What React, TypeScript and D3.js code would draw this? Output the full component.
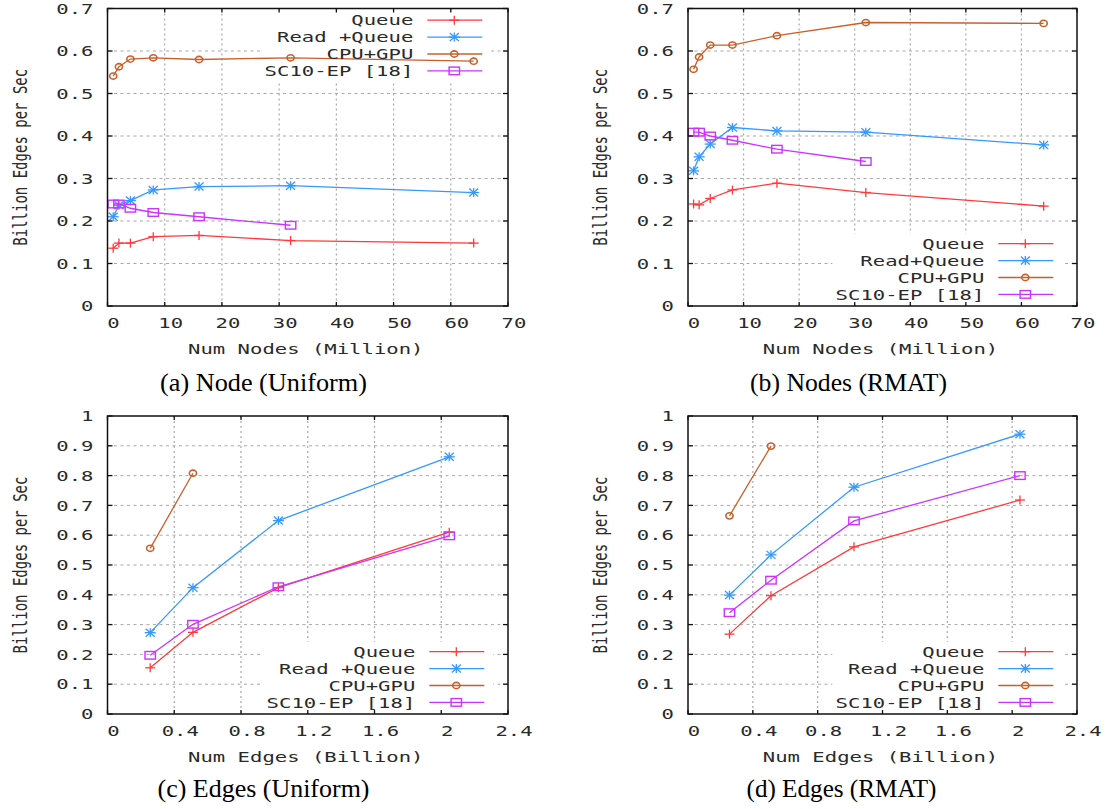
import React from 'react';
import * as d3 from 'd3';

// ---------- data ----------
const nodeCounts = [1, 2, 4, 8, 16, 32, 64];
const sc10NodeCounts = [1, 2, 4, 8, 16, 32];
const edgeCounts = [0.256, 0.512, 1.024, 2.048];
const cpuGpuEdgeCounts = [0.256, 0.512];

const nodeUniformQueue = [0.136, 0.148, 0.148, 0.163, 0.166, 0.154, 0.148];
const nodeUniformReadQueue = [0.21, 0.237, 0.248, 0.273, 0.281, 0.283, 0.267];
const nodeUniformCpuGpu = [0.541, 0.563, 0.581, 0.584, 0.58, 0.584, 0.576];
const nodeUniformSc10 = [0.24, 0.24, 0.23, 0.22, 0.21, 0.19];

const nodeRmatQueue = [0.24, 0.238, 0.253, 0.273, 0.289, 0.267, 0.235];
const nodeRmatReadQueue = [0.318, 0.351, 0.381, 0.42, 0.412, 0.409, 0.379];
const nodeRmatCpuGpu = [0.557, 0.586, 0.614, 0.614, 0.636, 0.667, 0.665];
const nodeRmatSc10 = [0.409, 0.409, 0.4, 0.39, 0.369, 0.34];

const edgeUniformQueue = [0.155, 0.274, 0.424, 0.61];
const edgeUniformReadQueue = [0.273, 0.424, 0.649, 0.863];
const edgeUniformCpuGpu = [0.556, 0.808];
const edgeUniformSc10 = [0.197, 0.301, 0.427, 0.598];

const edgeRmatQueue = [0.268, 0.397, 0.561, 0.718];
const edgeRmatReadQueue = [0.399, 0.534, 0.761, 0.939];
const edgeRmatCpuGpu = [0.665, 0.899];
const edgeRmatSc10 = [0.34, 0.449, 0.648, 0.8];

const seriesNames = ['Queue', 'Read +Queue', 'CPU+GPU', 'SC10-EP [18]'];
const seriesNamesRmatNodes = ['Queue', 'Read+Queue', 'CPU+GPU', 'SC10-EP [18]'];
const seriesColors = ['#ff3a3a', '#3399ff', '#c8602a', '#cc33ff'];
const seriesMarkers = ['plus', 'star', 'circle', 'square'];

const nodeXTicks = [0, 10, 20, 30, 40, 50, 60, 70];
const edgeXTicks = [0, 0.4, 0.8, 1.2, 1.6, 2, 2.4];
const nodeYTicks = [0, 0.1, 0.2, 0.3, 0.4, 0.5, 0.6, 0.7];
const edgeYTicks = [0, 0.1, 0.2, 0.3, 0.4, 0.5, 0.6, 0.7, 0.8, 0.9, 1];

const captions = ['(a) Node (Uniform)', '(b) Nodes (RMAT)', '(c) Edges (Uniform)', '(d) Edges (RMAT)'];
const xLabels = ['Num Nodes (Million)', 'Num Edges (Billion)'];
const yLabel = 'Billion Edges per Sec';

// ---------- layout ----------
const SX = 1.44;
const FONT = "'DejaVu Sans Mono', monospace";

type Series = { xs: number[]; ys: number[] };
type PanelCfg = {
  left: number; right: number; top: number; bottom: number;
  xTicks: number[]; yTicks: number[];
  series: Series[]; names: string[];
  legendPos: 'top' | 'bottom';
  xLabel: string; caption: string; captionLen: number; captionX: number; captionY: number;
};

const fmt = (t: number) => String(+t.toFixed(1));

function GText(props: { x: number; y: number; anchor?: string; children: any }) {
  const { x, y, anchor = 'middle', children } = props;
  return (
    <text
      transform={`translate(${x},${y}) scale(${SX},1)`}
      textAnchor={anchor}
      dy="0.36em"
      fontFamily={FONT}
      fontSize={14.3}
      fill="#2a2a2a"
      style={{ whiteSpace: 'pre' }}
    >
      {children}
    </text>
  );
}

function Marker({ cx, cy, type, color }: { cx: number; cy: number; type: string; color: string }) {
  const sw = 1.3;
  if (type === 'plus') {
    return (
      <g stroke={color} strokeWidth={sw}>
        <line x1={cx - 5} y1={cy} x2={cx + 5} y2={cy} />
        <line x1={cx} y1={cy - 4.5} x2={cx} y2={cy + 4.5} />
      </g>
    );
  }
  if (type === 'star') {
    return (
      <g stroke={color} strokeWidth={sw}>
        <line x1={cx - 5.5} y1={cy} x2={cx + 5.5} y2={cy} />
        <line x1={cx} y1={cy - 4.5} x2={cx} y2={cy + 4.5} />
        <line x1={cx - 4.5} y1={cy - 4} x2={cx + 4.5} y2={cy + 4} />
        <line x1={cx - 4.5} y1={cy + 4} x2={cx + 4.5} y2={cy - 4} />
      </g>
    );
  }
  if (type === 'circle') {
    return <ellipse cx={cx} cy={cy} rx={3.6} ry={3.1} fill="none" stroke={color} strokeWidth={1.6} />;
  }
  return <rect x={cx - 5.2} y={cy - 3.8} width={10.4} height={7.6} fill="none" stroke={color} strokeWidth={1.4} />;
}

function Panel({ cfg }: { cfg: PanelCfg }) {
  const { left, right, top, bottom } = cfg;
  const xDom = [cfg.xTicks[0], cfg.xTicks[cfg.xTicks.length - 1]];
  const yDom = [cfg.yTicks[0], cfg.yTicks[cfg.yTicks.length - 1]];
  const x = d3.scaleLinear().domain(xDom).range([left, right]);
  const y = d3.scaleLinear().domain(yDom).range([bottom, top]);
  const line = d3.line<[number, number]>().x((d) => x(d[0])).y((d) => y(d[1]));

  const step = 16.9;
  const firstY = cfg.legendPos === 'top' ? top + 11.7 : bottom - 62.3;
  const textRight = right - (cfg.legendPos === 'top' ? 94.7 : 92.7);
  const boxLeft = textRight - 152;
  const boxRight = Math.min(textRight + 78, right - 2);
  const boxTop = firstY - 10;
  const boxBottom = Math.min(firstY + 3 * step + 10, bottom - 1);

  return (
    <g>
      {/* grid */}
      {cfg.yTicks.slice(1, -1).map((t) => (
        <line key={'gy' + t} x1={left} x2={right} y1={y(t)} y2={y(t)} stroke="#a8a8a8" strokeWidth={1} strokeDasharray="3,3.5" />
      ))}
      {cfg.xTicks.slice(1, -1).map((t) => (
        <line key={'gx' + t} x1={x(t)} x2={x(t)} y1={top} y2={bottom} stroke="#a8a8a8" strokeWidth={1.2} strokeDasharray="2,3" />
      ))}
      {/* legend box (opaque) */}
      <rect x={boxLeft} y={boxTop} width={boxRight - boxLeft} height={boxBottom - boxTop} fill="#fff" />
      {/* data */}
      {cfg.series.map((s, i) => {
        const pts = s.xs.map((v, j) => [v, s.ys[j]] as [number, number]);
        return (
          <g key={'s' + i}>
            <path d={line(pts) || ''} fill="none" stroke={seriesColors[i]} strokeWidth={1.3} />
            {pts.map((p, j) => (
              <Marker key={j} cx={x(p[0])} cy={y(p[1])} type={seriesMarkers[i]} color={seriesColors[i]} />
            ))}
          </g>
        );
      })}
      {/* legend */}
      {cfg.names.map((n, i) => {
        const ly = firstY + i * step;
        return (
          <g key={'l' + i}>
            <GText x={textRight} y={ly} anchor="end">{n}</GText>
            <line x1={textRight + 14} x2={textRight + 69} y1={ly} y2={ly} stroke={seriesColors[i]} strokeWidth={1.3} />
            <Marker cx={textRight + 41} cy={ly} type={seriesMarkers[i]} color={seriesColors[i]} />
          </g>
        );
      })}
      {/* border */}
      <rect x={left} y={top} width={right - left} height={bottom - top} fill="none" stroke="#111" strokeWidth={1.5} />
      {/* ticks */}
      {cfg.yTicks.map((t) => (
        <g key={'ty' + t} stroke="#111" strokeWidth={1.3}>
          <line x1={left} x2={left + 5} y1={y(t)} y2={y(t)} />
          <line x1={right} x2={right - 5} y1={y(t)} y2={y(t)} />
        </g>
      ))}
      {cfg.xTicks.map((t) => (
        <g key={'tx' + t} stroke="#111" strokeWidth={1.3}>
          <line x1={x(t)} x2={x(t)} y1={bottom} y2={bottom - 4} />
          <line x1={x(t)} x2={x(t)} y1={top} y2={top + 4} />
        </g>
      ))}
      {/* tick labels */}
      {cfg.yTicks.map((t) => (
        <GText key={'ly' + t} x={left - 14} y={y(t)} anchor="end">{fmt(t)}</GText>
      ))}
      {cfg.xTicks.map((t) => (
        <GText key={'lx' + t} x={x(t) + 6} y={bottom + 17} anchor="middle">{fmt(t)}</GText>
      ))}
      {/* axis labels */}
      <GText x={(left + right) / 2 - 2} y={bottom + 42.5} anchor="middle">{cfg.xLabel}</GText>
      <text
        transform={`translate(${left - 88},${(top + bottom) / 2}) scale(${SX},1) rotate(-90)`}
        textAnchor="middle"
        dy="0.36em"
        fontFamily={FONT}
        fontSize={14}
        fill="#2a2a2a"
      >
        {yLabel}
      </text>
      {/* caption */}
      <text
        x={cfg.captionX}
        y={cfg.captionY}
        textAnchor="middle"
        fontFamily="'Liberation Serif', 'Times New Roman', serif"
        fontSize={24.5}
        textLength={cfg.captionLen}
        lengthAdjust="spacingAndGlyphs"
        fill="#000"
      >
        {cfg.caption}
      </text>
    </g>
  );
}

const mk = (xs: number[], ys: number[]): Series => ({ xs, ys });

const panels: PanelCfg[] = [
  {
    left: 107.5, right: 508, top: 8.5, bottom: 306,
    xTicks: nodeXTicks, yTicks: nodeYTicks,
    series: [mk(nodeCounts, nodeUniformQueue), mk(nodeCounts, nodeUniformReadQueue), mk(nodeCounts, nodeUniformCpuGpu), mk(sc10NodeCounts, nodeUniformSc10)],
    names: seriesNames, legendPos: 'top',
    xLabel: xLabels[0], caption: captions[0], captionLen: 207, captionX: 263.5, captionY: 391,
  },
  {
    left: 688, right: 1077, top: 8.5, bottom: 306,
    xTicks: nodeXTicks, yTicks: nodeYTicks,
    series: [mk(nodeCounts, nodeRmatQueue), mk(nodeCounts, nodeRmatReadQueue), mk(nodeCounts, nodeRmatCpuGpu), mk(sc10NodeCounts, nodeRmatSc10)],
    names: seriesNamesRmatNodes, legendPos: 'bottom',
    xLabel: xLabels[0], caption: captions[1], captionLen: 197, captionX: 848.5, captionY: 391,
  },
  {
    left: 107.5, right: 508, top: 416, bottom: 714,
    xTicks: edgeXTicks, yTicks: edgeYTicks,
    series: [mk(edgeCounts, edgeUniformQueue), mk(edgeCounts, edgeUniformReadQueue), mk(cpuGpuEdgeCounts, edgeUniformCpuGpu), mk(edgeCounts, edgeUniformSc10)],
    names: seriesNames, legendPos: 'bottom',
    xLabel: xLabels[1], caption: captions[2], captionLen: 212, captionX: 263.5, captionY: 797,
  },
  {
    left: 688, right: 1077, top: 416, bottom: 714,
    xTicks: edgeXTicks, yTicks: edgeYTicks,
    series: [mk(edgeCounts, edgeRmatQueue), mk(edgeCounts, edgeRmatReadQueue), mk(cpuGpuEdgeCounts, edgeRmatCpuGpu), mk(edgeCounts, edgeRmatSc10)],
    names: seriesNames, legendPos: 'bottom',
    xLabel: xLabels[1], caption: captions[3], captionLen: 190, captionX: 841.5, captionY: 797,
  },
];

export default function App() {
  return (
    <div style={{ position: 'absolute', left: 0, top: 0 }}>
      <svg width={1119} height={809} style={{ display: 'block', background: '#fff' }}>
        <rect width={1119} height={809} fill="#fff" />
        {panels.map((p, i) => (
          <Panel key={i} cfg={p} />
        ))}
      </svg>
    </div>
  );
}
